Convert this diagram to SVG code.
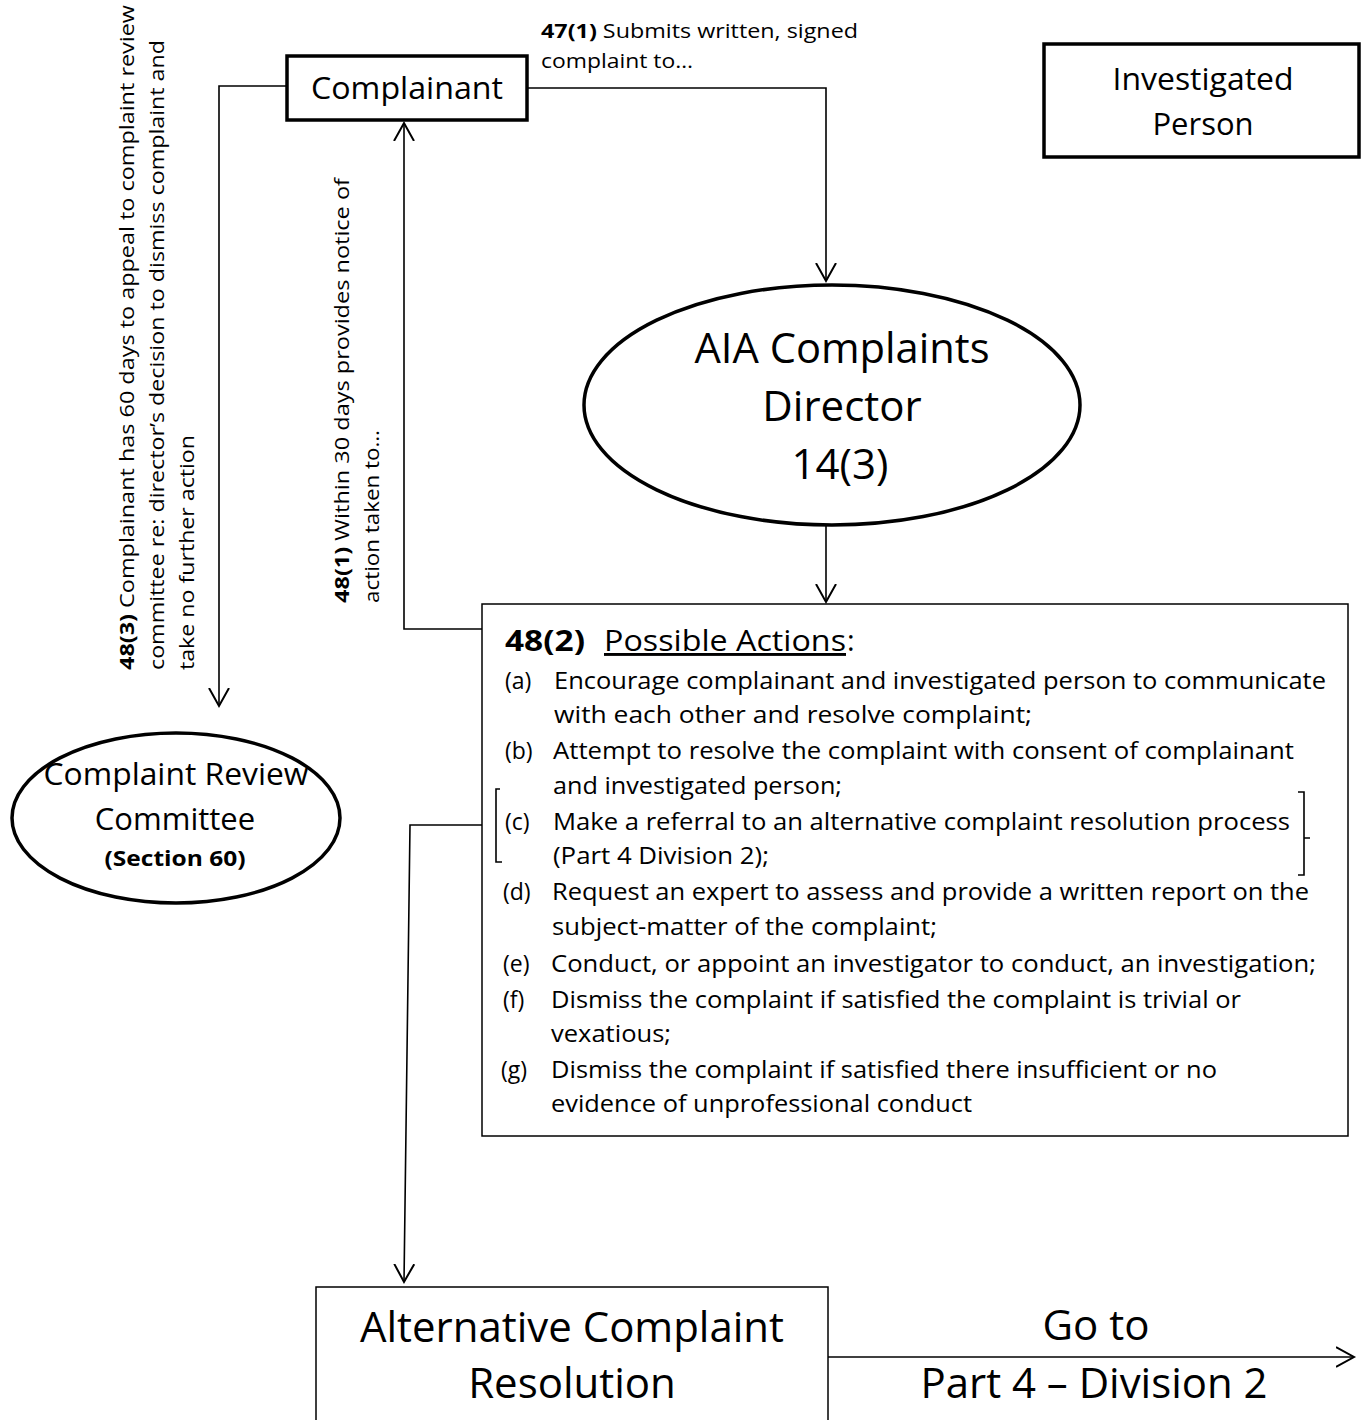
<svg xmlns="http://www.w3.org/2000/svg" width="1362" height="1420" viewBox="0 0 1362 1420">
<defs>
<marker id="arr" markerUnits="userSpaceOnUse" markerWidth="24" markerHeight="24" refX="18" refY="10" orient="auto" viewBox="0 0 24 20">
<path d="M0,0 L18,10 L0,20" fill="none" stroke="#000" stroke-width="2"/>
</marker>
</defs>
<style>
text{font-family:"Open Sans","Noto Sans",sans-serif;fill:#000}
.thick{fill:#fff;stroke:#000;stroke-width:3.5}
.thin{fill:#fff;stroke:#000;stroke-width:1.5}
.conn{fill:none;stroke:#000;stroke-width:1.6}
.big{font-size:42px;text-anchor:middle}
.mid{font-size:31px;text-anchor:middle}
.lab{font-size:20px}
.item{font-size:23px}
.b{font-weight:bold}
</style>
<rect width="1362" height="1420" fill="#fff"/>

<g id="connectors">
<path class="conn" d="M527,88 H826 V281" marker-end="url(#arr)"/>
<path class="conn" d="M826,526 V602" marker-end="url(#arr)"/>
<path class="conn" d="M482,629 H404 V123" marker-end="url(#arr)"/>
<path class="conn" d="M287,86 H219 V706" marker-end="url(#arr)"/>
<path class="conn" d="M496,825 H410 L404,1282" marker-end="url(#arr)"/>
<path class="conn" d="M828,1357 H1354" marker-end="url(#arr)"/>
</g>

<g id="label-47-1">
<text class="lab" x="541" y="38" textLength="317" lengthAdjust="spacingAndGlyphs"><tspan class="b">47(1)</tspan> Submits written, signed</text>
<text class="lab" x="541" y="68" textLength="152" lengthAdjust="spacingAndGlyphs">complaint to…</text>
</g>

<g id="label-48-3">
<text class="lab" transform="translate(134,670) rotate(-90)" textLength="665" lengthAdjust="spacingAndGlyphs"><tspan class="b">48(3)</tspan> Complainant has 60 days to appeal to complaint review</text>
<text class="lab" transform="translate(164,670) rotate(-90)" textLength="630" lengthAdjust="spacingAndGlyphs">committee re: director’s decision to dismiss complaint and</text>
<text class="lab" transform="translate(194,670) rotate(-90)" textLength="235" lengthAdjust="spacingAndGlyphs">take no further action</text>
</g>

<g id="label-48-1">
<text class="lab" transform="translate(349,603) rotate(-90)" textLength="425" lengthAdjust="spacingAndGlyphs"><tspan class="b">48(1)</tspan> Within 30 days provides notice of</text>
<text class="lab" transform="translate(379,603) rotate(-90)" textLength="173" lengthAdjust="spacingAndGlyphs">action taken to…</text>
</g>

<g id="complainant">
<rect class="thick" x="287" y="56" width="240" height="64"/>
<text class="mid" x="407" y="99" textLength="192" lengthAdjust="spacingAndGlyphs">Complainant</text>
</g>

<g id="investigated-person">
<rect class="thick" x="1044" y="44" width="315" height="113"/>
<text class="mid" x="1203" y="90" textLength="181" lengthAdjust="spacingAndGlyphs">Investigated</text>
<text class="mid" x="1203" y="135">Person</text>
</g>

<g id="director">
<ellipse class="thick" cx="832" cy="405" rx="248" ry="120"/>
<text class="big" x="842" y="363" textLength="295" lengthAdjust="spacingAndGlyphs">AIA Complaints</text>
<text class="big" x="842" y="421">Director</text>
<text class="big" x="840" y="479">14(3)</text>
</g>

<g id="review-committee">
<ellipse class="thick" cx="176" cy="818" rx="164" ry="85"/>
<text class="mid" x="176" y="785" textLength="265" lengthAdjust="spacingAndGlyphs">Complaint Review</text>
<text class="mid" x="175" y="830">Committee</text>
<text x="175" y="866" font-size="22" font-weight="bold" text-anchor="middle" textLength="141" lengthAdjust="spacingAndGlyphs">(Section 60)</text>
</g>

<g id="possible-actions">
<rect class="thin" x="482" y="604" width="866" height="532"/>
<path class="conn" d="M500,789 H496 V862 H502"/>
<path class="conn" d="M1298,792 H1304 V875 H1298 M1304,838 H1310"/>
<text x="505" y="651" font-size="29" class="b" textLength="80" lengthAdjust="spacingAndGlyphs">48(2)</text>
<text x="604" y="651" font-size="29" textLength="242" lengthAdjust="spacingAndGlyphs" text-decoration="underline">Possible Actions</text>
<text x="847" y="651" font-size="29">:</text>
<text class="item" x="505" y="689">(a)</text>
<text class="item" x="554" y="689" textLength="772" lengthAdjust="spacingAndGlyphs">Encourage complainant and investigated person to communicate</text>
<text class="item" x="554" y="723" textLength="478" lengthAdjust="spacingAndGlyphs">with each other and resolve complaint;</text>
<text class="item" x="505" y="759">(b)</text>
<text class="item" x="553" y="759" textLength="741" lengthAdjust="spacingAndGlyphs">Attempt to resolve the complaint with consent of complainant</text>
<text class="item" x="553" y="794" textLength="289" lengthAdjust="spacingAndGlyphs">and investigated person;</text>
<text class="item" x="505" y="830">(c)</text>
<text class="item" x="553" y="830" textLength="737" lengthAdjust="spacingAndGlyphs">Make a referral to an alternative complaint resolution process</text>
<text class="item" x="553" y="864" textLength="216" lengthAdjust="spacingAndGlyphs">(Part 4 Division 2);</text>
<text class="item" x="503" y="900">(d)</text>
<text class="item" x="552" y="900" textLength="757" lengthAdjust="spacingAndGlyphs">Request an expert to assess and provide a written report on the</text>
<text class="item" x="552" y="935" textLength="385" lengthAdjust="spacingAndGlyphs">subject-matter of the complaint;</text>
<text class="item" x="503" y="972">(e)</text>
<text class="item" x="551" y="972" textLength="765" lengthAdjust="spacingAndGlyphs">Conduct, or appoint an investigator to conduct, an investigation;</text>
<text class="item" x="503" y="1008">(f)</text>
<text class="item" x="551" y="1008" textLength="690" lengthAdjust="spacingAndGlyphs">Dismiss the complaint if satisfied the complaint is trivial or</text>
<text class="item" x="551" y="1042" textLength="120" lengthAdjust="spacingAndGlyphs">vexatious;</text>
<text class="item" x="501" y="1078">(g)</text>
<text class="item" x="551" y="1078" textLength="666" lengthAdjust="spacingAndGlyphs">Dismiss the complaint if satisfied there insufficient or no</text>
<text class="item" x="551" y="1112" textLength="421" lengthAdjust="spacingAndGlyphs">evidence of unprofessional conduct</text>
</g>

<g id="alternative-resolution">
<rect class="thin" x="316" y="1287" width="512" height="150"/>
<text class="big" x="572" y="1342" textLength="424" lengthAdjust="spacingAndGlyphs">Alternative Complaint</text>
<text class="big" x="572" y="1398">Resolution</text>
</g>

<g id="goto-label">
<text class="big" x="1096" y="1340">Go to</text>
<text class="big" x="1094" y="1398" textLength="347" lengthAdjust="spacingAndGlyphs">Part 4 – Division 2</text>
</g>
</svg>
